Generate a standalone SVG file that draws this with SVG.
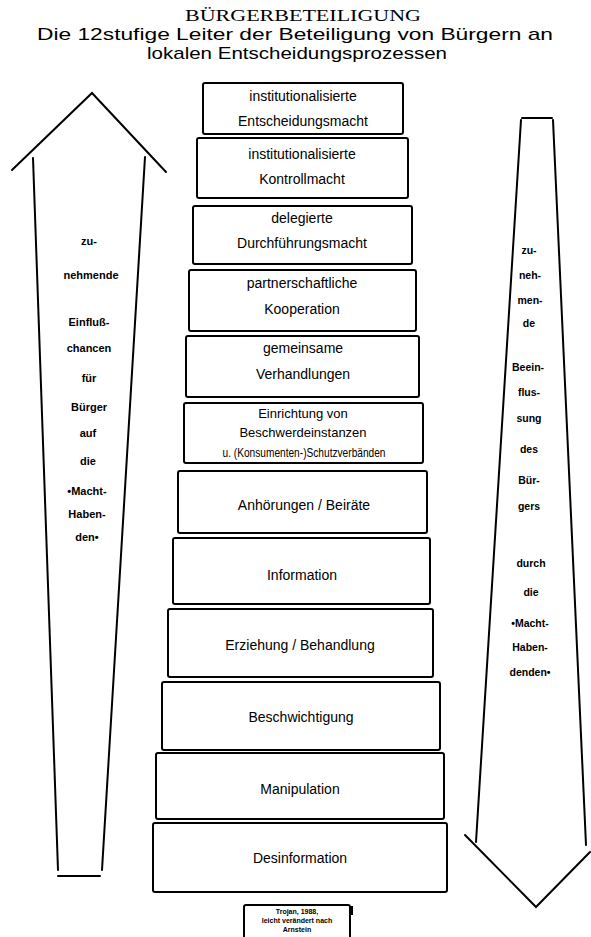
<svg xmlns="http://www.w3.org/2000/svg" width="591" height="937" viewBox="0 0 591 937">
<style>
.bg{fill:#fff}
.box{fill:#fff;stroke:#000;stroke-width:2}
.lbl{font-family:"Liberation Sans",Arial,sans-serif;font-size:14px;fill:#000;text-anchor:middle;dominant-baseline:central}
.sm{font-size:13px}
.title{font-family:"Liberation Sans",Arial,sans-serif;fill:#000;text-anchor:middle}
.arr{fill:none;stroke:#000;stroke-width:2;stroke-linecap:round;stroke-linejoin:miter}
.at{font-family:"Liberation Sans",Arial,sans-serif;font-weight:bold;font-size:11px;fill:#000;text-anchor:middle;dominant-baseline:central}
.rt{font-size:10.5px}
.ft{font-family:"Liberation Sans",Arial,sans-serif;font-weight:bold;font-size:7px;fill:#000;text-anchor:middle}
</style>
<rect class="bg" x="0" y="0" width="591" height="937"/>

<g id="title">
<text class="title" x="303" y="21" font-size="16" textLength="236" lengthAdjust="spacingAndGlyphs" style="font-family:'Liberation Serif',serif">BÜRGERBETEILIGUNG</text>
<text class="title" x="295" y="40" font-size="17" textLength="516" lengthAdjust="spacingAndGlyphs">Die 12stufige Leiter der Beteiligung von Bürgern an</text>
<text class="title" x="297" y="59" font-size="17" textLength="300" lengthAdjust="spacingAndGlyphs">lokalen Entscheidungsprozessen</text>
</g>

<g id="connectors">
<g id="arrow-up">
<polyline class="arr" points="12,170 92,93 166,172"/>
<line class="arr" x1="33" y1="158" x2="58" y2="870"/>
<line class="arr" x1="145" y1="157" x2="102" y2="870"/>
<line class="arr" x1="58" y1="876" x2="100" y2="876"/>
</g>
<g id="arrow-down">
<line class="arr" x1="522" y1="118" x2="552" y2="118"/>
<line class="arr" x1="521" y1="120" x2="476" y2="842"/>
<line class="arr" x1="553" y1="120" x2="586" y2="845"/>
<polyline class="arr" points="465,835 536,907 590,852"/>
</g>
</g>

<g id="left-arrow-text">
<text class="at" x="89" y="241">zu-</text>
<text class="at" x="91" y="275">nehmende</text>
<text class="at" x="89" y="322">Einfluß-</text>
<text class="at" x="89" y="348">chancen</text>
<text class="at" x="89" y="378">für</text>
<text class="at" x="89" y="407">Bürger</text>
<text class="at" x="88" y="433">auf</text>
<text class="at" x="88" y="461">die</text>
<text class="at" x="87" y="491">•Macht-</text>
<text class="at" x="87" y="514">Haben-</text>
<text class="at" x="87" y="537">den•</text>
</g>

<g id="right-arrow-text">
<text class="at rt" x="529" y="250">zu-</text>
<text class="at rt" x="530" y="275">neh-</text>
<text class="at rt" x="530" y="300">men-</text>
<text class="at rt" x="529" y="323">de</text>
<text class="at rt" x="528" y="367">Beein-</text>
<text class="at rt" x="529" y="392">flus-</text>
<text class="at rt" x="529" y="418">sung</text>
<text class="at rt" x="529" y="449">des</text>
<text class="at rt" x="529" y="480">Bür-</text>
<text class="at rt" x="529" y="506">gers</text>
<text class="at rt" x="531" y="563">durch</text>
<text class="at rt" x="531" y="592">die</text>
<text class="at rt" x="530" y="623">•Macht-</text>
<text class="at rt" x="530" y="647">Haben-</text>
<text class="at rt" x="530" y="672">denden•</text>
</g>

<g id="step12">
<rect class="box" x="203" y="83" width="200" height="51" rx="2"/>
<text class="lbl" x="303" y="96">institutionalisierte</text>
<text class="lbl" x="303" y="121">Entscheidungsmacht</text>
</g>
<g id="step11">
<rect class="box" x="197" y="138" width="211" height="60" rx="2"/>
<text class="lbl" x="302" y="154">institutionalisierte</text>
<text class="lbl" x="302" y="179">Kontrollmacht</text>
</g>
<g id="step10">
<rect class="box" x="193" y="206" width="219" height="58" rx="2"/>
<text class="lbl" x="302" y="218">delegierte</text>
<text class="lbl" x="302" y="243">Durchführungsmacht</text>
</g>
<g id="step9">
<rect class="box" x="189" y="270" width="227" height="61" rx="2"/>
<text class="lbl" x="302" y="283">partnerschaftliche</text>
<text class="lbl" x="302" y="309">Kooperation</text>
</g>
<g id="step8">
<rect class="box" x="186" y="336" width="233" height="61" rx="2"/>
<text class="lbl" x="303" y="348">gemeinsame</text>
<text class="lbl" x="303" y="374">Verhandlungen</text>
</g>
<g id="step7">
<rect class="box" x="184" y="403" width="239" height="60" rx="2"/>
<text class="lbl sm" x="303" y="413">Einrichtung von</text>
<text class="lbl sm" x="303" y="432">Beschwerdeinstanzen</text>
<text class="lbl sm" x="304" y="452" textLength="163" lengthAdjust="spacingAndGlyphs">u. (Konsumenten-)Schutzverbänden</text>
</g>
<g id="step6">
<rect class="box" x="178" y="471" width="249" height="62" rx="2"/>
<text class="lbl" x="304" y="505">Anhörungen / Beiräte</text>
</g>
<g id="step5">
<rect class="box" x="173" y="538" width="257" height="66" rx="2"/>
<text class="lbl" x="302" y="575">Information</text>
</g>
<g id="step4">
<rect class="box" x="168" y="609" width="265" height="68" rx="2"/>
<text class="lbl" x="300" y="645">Erziehung / Behandlung</text>
</g>
<g id="step3">
<rect class="box" x="162" y="682" width="278" height="68" rx="2"/>
<text class="lbl" x="301" y="717">Beschwichtigung</text>
</g>
<g id="step2">
<rect class="box" x="156" y="753" width="288" height="66" rx="2"/>
<text class="lbl" x="300" y="789">Manipulation</text>
</g>
<g id="step1">
<rect class="box" x="153" y="823" width="294" height="69" rx="2"/>
<text class="lbl" x="300" y="858">Desinformation</text>
</g>

<g id="source">
<rect x="244" y="905" width="106" height="40" rx="2" fill="#fff" stroke="#000" stroke-width="2"/>
<rect x="349" y="906" width="4" height="9" fill="#000"/>
<text class="ft" x="297" y="914">Trojan, 1988,</text>
<text class="ft" x="297" y="923">leicht verändert nach</text>
<text class="ft" x="297" y="932">Arnstein</text>
</g>
</svg>
